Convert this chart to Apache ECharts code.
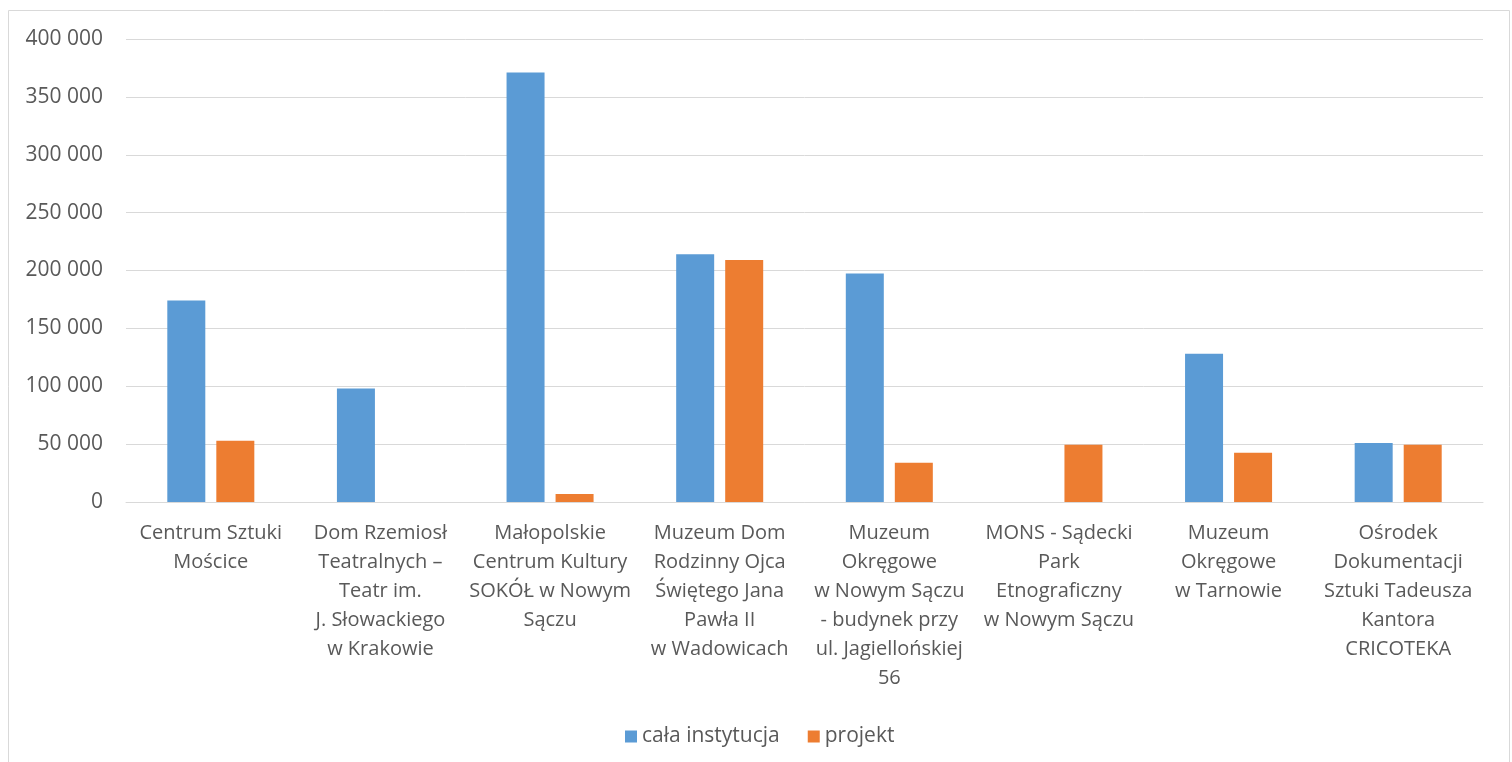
<!DOCTYPE html>
<html>
<head>
<meta charset="utf-8">
<script src="https://cdn.jsdelivr.net/npm/echarts@6/dist/echarts.min.js"></script>
<style>
html,body{margin:0;padding:0;background:#fff;}
#c{width:1512px;height:762px;}
</style>
</head>
<body>
<div id="c"></div>
<script>
const categories = [
  "Centrum Sztuki\nMościce",
  "Dom Rzemiosł\nTeatralnych –\nTeatr im.\nJ. Słowackiego\nw Krakowie",
  "Małopolskie\nCentrum Kultury\nSOKÓŁ w Nowym\nSączu",
  "Muzeum Dom\nRodzinny Ojca\nŚwiętego Jana\nPawła II\nw Wadowicach",
  "Muzeum\nOkręgowe\nw Nowym Sączu\n- budynek przy\nul. Jagiellońskiej\n56",
  "MONS - Sądecki\nPark\nEtnograficzny\nw Nowym Sączu",
  "Muzeum\nOkręgowe\nw Tarnowie",
  "Ośrodek\nDokumentacji\nSztuki Tadeusza\nKantora\nCRICOTEKA"
];
const seriesNames = ["cała instytucja", "projekt"];
const calaInstytucja = [174000, 98000, 371000, 214000, 197500, 0, 128000, 51000];
const projekt = [53000, 0, 7000, 209000, 34000, 49500, 42500, 49500];
const yTicks = [0, 50000, 100000, 150000, 200000, 250000, 300000, 350000, 400000];

const font = "'Open Sans', 'Noto Sans', sans-serif";
const textColor = '#595959';
const fmt = v => String(v).replace(/\B(?=(\d{3})+(?!\d))/g, ' ');

const chart = echarts.init(document.getElementById('c'));
chart.setOption({
  animation: false,
  textStyle: {fontFamily: font},
  graphic: [{
    type: 'rect',
    shape: {x: 8.5, y: 10.5, width: 1501, height: 800},
    style: {fill: 'none', stroke: '#d9d9d9', lineWidth: 1},
    silent: true
  }],
  grid: {left: 126, right: 29, top: 39, bottom: 260, containLabel: false},
  legend: {
    data: seriesNames,
    top: 721,
    left: 620,
    itemWidth: 12,
    itemHeight: 12,
    itemGap: 28,
    icon: 'rect',
    textStyle: {color: textColor, fontSize: 21, fontFamily: font}
  },
  xAxis: {
    type: 'category',
    data: categories,
    axisTick: {show: false},
    axisLine: {lineStyle: {color: '#d9d9d9'}},
    axisLabel: {
      interval: 0,
      color: textColor,
      fontSize: 20,
      lineHeight: 29,
      margin: 17,
      fontFamily: font
    }
  },
  yAxis: {
    type: 'value',
    min: yTicks[0],
    max: yTicks[yTicks.length - 1],
    interval: yTicks[1] - yTicks[0],
    axisLine: {show: false},
    axisTick: {show: false},
    splitLine: {lineStyle: {color: '#d9d9d9'}},
    axisLabel: {
      color: textColor,
      fontSize: 21,
      margin: 23,
      fontFamily: font,
      formatter: fmt
    }
  },
  series: [
    {name: seriesNames[0], type: 'bar', data: calaInstytucja, barWidth: 38, barGap: '29%', itemStyle: {color: '#5B9BD5'}},
    {name: seriesNames[1], type: 'bar', data: projekt, barWidth: 38, barGap: '29%', itemStyle: {color: '#ED7D31'}}
  ]
});
</script>
</body>
</html>
